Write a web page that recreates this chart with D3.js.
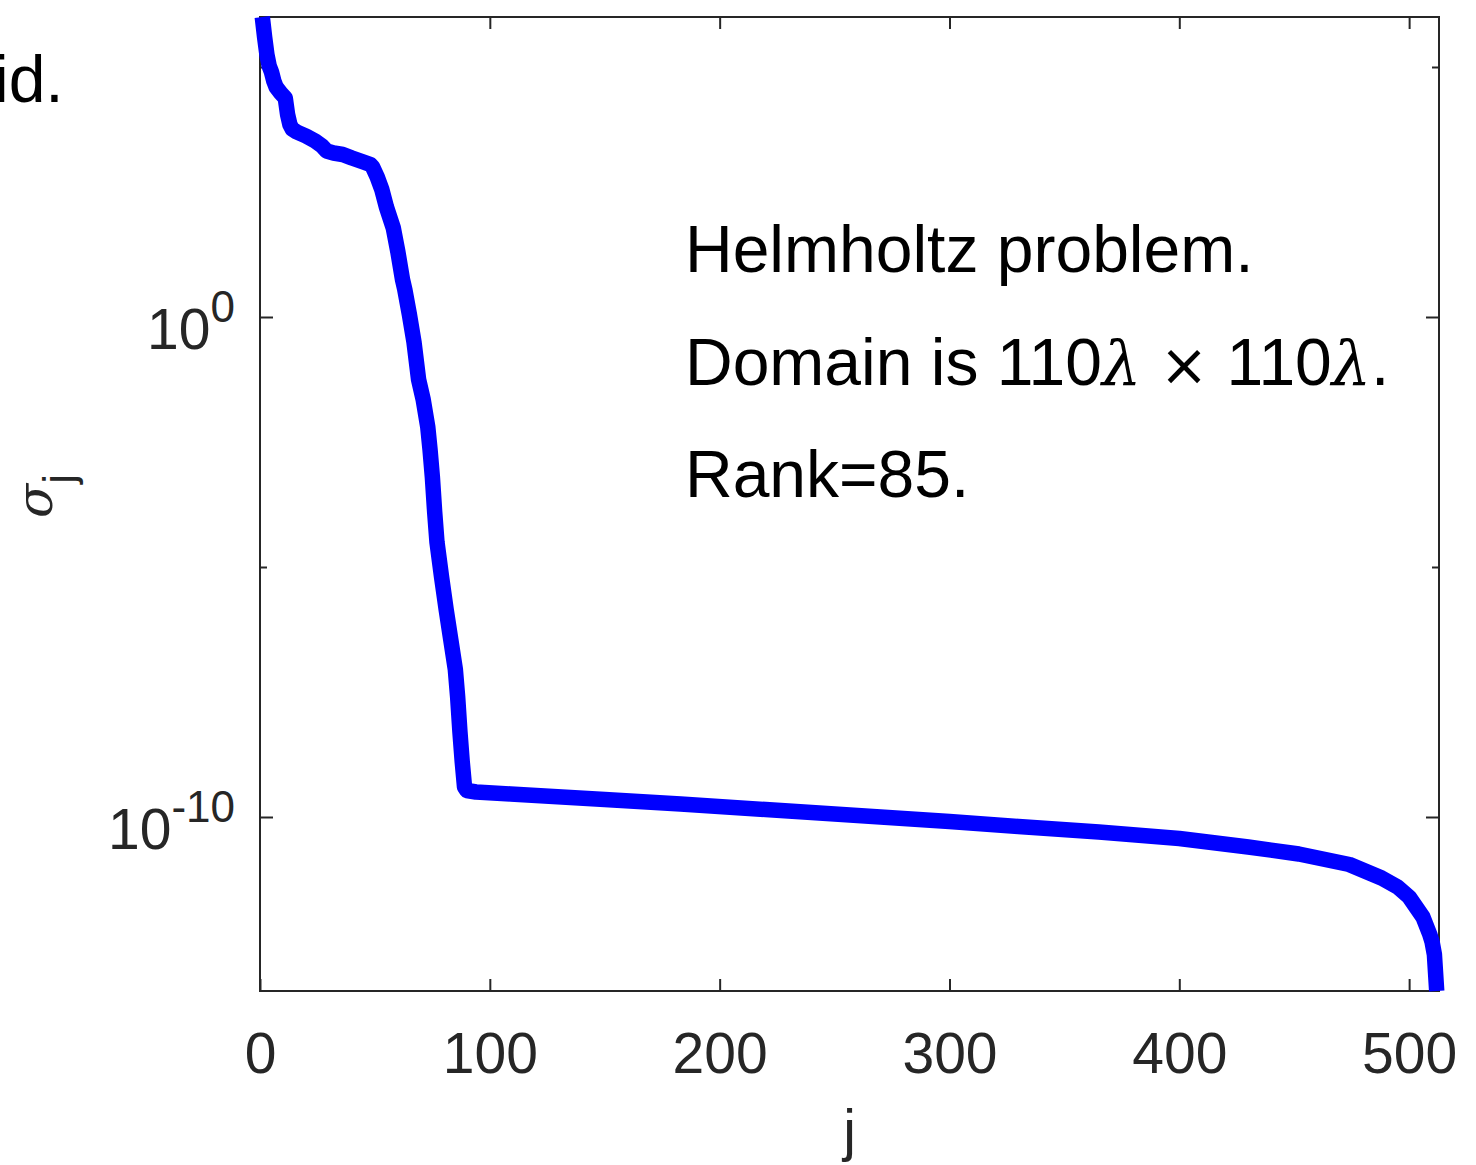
<!DOCTYPE html>
<html>
<head>
<meta charset="utf-8">
<script src="https://cdn.jsdelivr.net/npm/d3@7"></script>
<style>
  html, body { margin: 0; padding: 0; background: #fff; }
  svg { display: block; }
  text { font-family: "Liberation Sans", Arial, Helvetica, sans-serif; }
</style>
</head>
<body>
<svg id="chart" width="1476" height="1165"></svg>
<script>
// ---- data ----
const indexJ = [1, 2, 3, 4, 5, 6, 7, 9, 11, 12, 13, 14, 16, 20, 24, 27, 29, 32, 36, 40, 45, 48,
  49, 51, 53, 55, 58, 60, 62, 63, 65, 67, 69, 71, 73, 74, 75, 76, 77, 79, 81, 83, 85, 86, 87, 88, 89, 90,
  94, 109, 150, 183, 220, 270, 300, 330, 365, 400, 430, 452, 474, 488, 495, 500, 506, 509, 510, 511, 512];
const sigmaLog10 = [6.0, 5.6, 5.25, 5.02, 4.9, 4.72, 4.6, 4.48, 4.38, 4.05, 3.85, 3.76, 3.7, 3.62, 3.52, 3.42, 3.32, 3.28, 3.25, 3.18, 3.1, 3.05,
  3.0, 2.8, 2.55, 2.2, 1.78, 1.3, 0.75, 0.55, 0.05, -0.5, -1.25, -1.65, -2.2, -2.66, -3.2, -3.9, -4.5, -5.2, -5.85, -6.45, -7.05, -7.6, -8.3, -8.9, -9.4, -9.47,
  -9.5, -9.54, -9.65, -9.74, -9.85, -10.0, -10.09, -10.19, -10.3, -10.43, -10.6, -10.74, -10.95, -11.22, -11.4, -11.6, -12.0, -12.35, -12.5, -12.75, -13.48];
const xTicks = [0, 100, 200, 300, 400, 500];
const yMajorTicks = [1e0, 1e-10];
const yMajorExp = ["0", "-10"];
const yMinorTicks = [1e5, 1e-5];
const annotationLines = ["Helmholtz problem.", "Domain is 110λ × 110λ.", "Rank=85."];
const xDomain = [0, 513];
const yDomain = [Math.pow(10, -13.48), 1e6];

// ---- layout ----
const pLeft = 260, pRight = 1439, pTop = 17, pBottom = 991;
const axisColor = "#262626";
const svg = d3.select("#chart");

const x = d3.scaleLinear().domain(xDomain).range([pLeft, pRight]);
const y = d3.scaleLog().domain(yDomain).range([pBottom, pTop]);

const data = indexJ.map((j, i) => ({ j, s: Math.pow(10, sigmaLog10[i]) }));

// clipped title text from neighbouring panel (cut off at the left edge, as in the reference)
svg.append("text").attr("x", -6).attr("y", 102)
  .attr("font-size", 66).attr("fill", "#000").text("id.");

// axes box
svg.append("rect").attr("x", pLeft).attr("y", pTop)
  .attr("width", pRight - pLeft).attr("height", pBottom - pTop)
  .attr("fill", "none").attr("stroke", axisColor).attr("stroke-width", 2);

// x axis bottom
const gxb = svg.append("g").attr("transform", `translate(0,${pBottom})`)
  .call(d3.axisBottom(x).tickValues(xTicks).tickSizeInner(-12).tickSizeOuter(0).tickFormat(d3.format("d")));
gxb.select(".domain").remove();
gxb.selectAll("line").attr("stroke", axisColor).attr("stroke-width", 2);
gxb.selectAll("text").attr("y", 82).attr("dy", null)
  .attr("font-size", 57).attr("fill", axisColor)
  .attr("font-family", "Liberation Sans, Arial, sans-serif");

// x axis top
const gxt = svg.append("g").attr("transform", `translate(0,${pTop})`)
  .call(d3.axisTop(x).tickValues(xTicks).tickSizeInner(-12).tickSizeOuter(0).tickFormat(""));
gxt.select(".domain").remove();
gxt.selectAll("line").attr("stroke", axisColor).attr("stroke-width", 2);

// y axes (left + right), major and minor
function yAxis(gen, xpos, values, size) {
  const g = svg.append("g").attr("transform", `translate(${xpos},0)`)
    .call(gen(y).tickValues(values).tickSizeInner(size).tickSizeOuter(0).tickFormat(""));
  g.select(".domain").remove();
  g.selectAll("line").attr("stroke", axisColor).attr("stroke-width", 2);
  g.selectAll("text").remove();
  return g;
}
const gyl = yAxis(d3.axisLeft, pLeft, yMajorTicks, -13);
yAxis(d3.axisLeft, pLeft, yMinorTicks, -7);
yAxis(d3.axisRight, pRight, yMajorTicks, -13);
yAxis(d3.axisRight, pRight, yMinorTicks, -7);

// y tick labels 10^k
gyl.selectAll(".tick").each(function (d, i) {
  const t = d3.select(this).append("text")
    .attr("x", -25).attr("y", 31).attr("text-anchor", "end")
    .attr("fill", axisColor).attr("font-size", 57);
  t.append("tspan").text("10");
  t.append("tspan").attr("font-size", 44).attr("dy", -27).text(yMajorExp[i]);
});

// data line
svg.append("path").datum(data)
  .attr("fill", "none").attr("stroke", "#0000ff").attr("stroke-width", 15.5)
  .attr("stroke-linejoin", "round").attr("stroke-linecap", "butt")
  .attr("d", d3.line().x(d => x(d.j)).y(d => y(d.s)));

// annotation
annotationLines.forEach((line, i) => {
  const baseY = 272 + i * 112.5;
  const t = svg.append("text").attr("x", 685).attr("y", baseY).attr("font-size", 66).attr("fill", "#000");
  line.split(/(λ|×)/).forEach(part => {
    if (part === "λ") t.append("tspan").attr("font-style", "italic").attr("font-family", "DejaVu Serif, serif").attr("font-size", 62).text("λ");
    else if (part === "×") t.append("tspan").attr("font-family", "DejaVu Sans, sans-serif").attr("font-size", 58).text("×");
    else if (part.length) t.append("tspan").text(part);
  });
});

// axis labels
svg.append("text").attr("x", (pLeft + pRight) / 2).attr("y", 1150)
  .attr("text-anchor", "middle").attr("font-size", 57).attr("fill", axisColor).text("j");

const yl = svg.append("text")
  .attr("transform", `translate(52,${(pTop + pBottom) / 2 - 8}) rotate(-90)`)
  .attr("text-anchor", "middle").attr("font-size", 57).attr("fill", axisColor);
yl.append("tspan").attr("font-style", "italic").attr("font-family", "DejaVu Serif, serif").attr("font-size", 50).text("σ");
yl.append("tspan").attr("dy", 22).attr("font-size", 44).text("j");
</script>
</body>
</html>
